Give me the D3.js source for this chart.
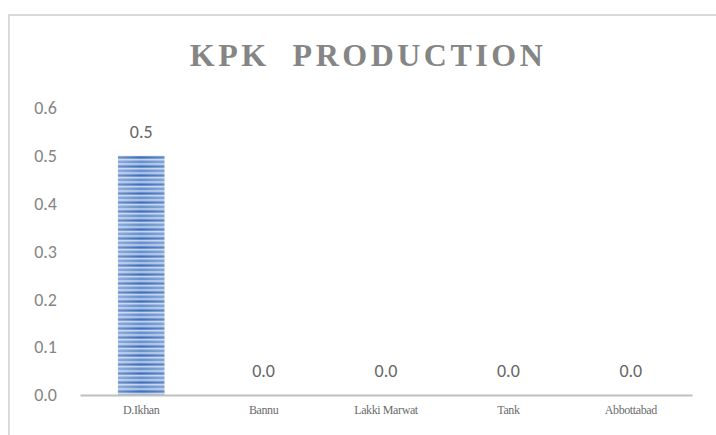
<!DOCTYPE html>
<html><head><meta charset="utf-8">
<script src="https://cdn.jsdelivr.net/npm/d3@7"></script>
<style>html,body{margin:0;padding:0;background:#fff;}svg{display:block;}</style>
</head><body>
<svg id="chart" width="716" height="435"></svg>
<script>
const categories = ["D.Ikhan", "Bannu", "Lakki Marwat", "Tank", "Abbottabad"];
const values = [0.5, 0.0, 0.0, 0.0, 0.0];
const yTicks = [0, 0.1, 0.2, 0.3, 0.4, 0.5, 0.6];
const title = "KPK  PRODUCTION";

const svg = d3.select("#chart");
const m = {left: 80, right: 24, top: 108, bottom: 40};

svg.append("rect").attr("x", 9).attr("y", 15).attr("width", 720).attr("height", 440)
  .attr("fill", "#fff").attr("stroke", "#d9d9d9").attr("stroke-width", 2);

// stripe pattern
const defs = svg.append("defs");
const pat = defs.append("pattern").attr("id", "stripes").attr("patternUnits", "userSpaceOnUse")
  .attr("width", 10).attr("height", 9);
pat.append("rect").attr("width", 10).attr("height", 9).attr("fill", "#6890cd");
pat.append("rect").attr("y", 1).attr("width", 10).attr("height", 2).attr("fill", "#a6bfe6");
pat.append("rect").attr("y", 4).attr("width", 10).attr("height", 1).attr("fill", "#3f6db6");
pat.append("rect").attr("y", 6).attr("width", 10).attr("height", 1.5).attr("fill", "#c0d2ee");
const grad = defs.append("linearGradient").attr("id", "edge").attr("x1", 0).attr("x2", 1);
grad.append("stop").attr("offset", 0).attr("stop-color", "#fff").attr("stop-opacity", 0.25);
grad.append("stop").attr("offset", 0.5).attr("stop-color", "#fff").attr("stop-opacity", 0);
grad.append("stop").attr("offset", 1).attr("stop-color", "#fff").attr("stop-opacity", 0.2);

const x = d3.scaleBand().domain(categories).range([m.left, 692]).paddingInner(0.62).paddingOuter(0.31);
const y = d3.scaleLinear().domain([0, 0.6]).range([395, 108]);

svg.append("text").attr("x", 368).attr("y", 66).attr("text-anchor", "middle")
  .attr("xml:space", "preserve").style("white-space", "pre")
  .attr("font-family", "Liberation Serif, Times New Roman, serif").attr("font-weight", "bold")
  .attr("font-size", 32).attr("letter-spacing", 3.5).attr("fill", "#858585").text(title);

// y tick labels
svg.append("g").selectAll("text").data(yTicks).join("text")
  .attr("x", 57).attr("y", d => y(d)).attr("dy", "0.35em").attr("text-anchor", "end")
  .attr("font-family", "Carlito, Liberation Sans, sans-serif").attr("font-size", 18)
  .attr("fill", "#858585").text(d => d.toFixed(1));

// bars
svg.append("g").selectAll("rect").data(values).join("rect")
  .attr("x", (d, i) => x(categories[i])).attr("width", x.bandwidth())
  .attr("y", d => y(d)).attr("height", d => y(0) - y(d))
  .attr("fill", "url(#stripes)");
svg.append("g").selectAll("rect").data(values).join("rect")
  .attr("x", (d, i) => x(categories[i])).attr("width", x.bandwidth())
  .attr("y", d => y(d)).attr("height", d => y(0) - y(d))
  .attr("fill", "url(#edge)");

// axis line
const xAxis = d3.axisBottom(x).tickSize(0).tickPadding(10);
const gx = svg.append("g").attr("transform", `translate(0,${y(0)})`).call(xAxis);
gx.select(".domain").attr("stroke", "#bfbfbf").attr("stroke-width", 2);
gx.selectAll("text").attr("font-family", "Liberation Serif, Times New Roman, serif")
  .attr("font-size", 12).attr("fill", "#6b6b6b").attr("letter-spacing", -0.4);

// value labels
svg.append("g").selectAll("text").data(values).join("text")
  .attr("x", (d, i) => x(categories[i]) + x.bandwidth() / 2)
  .attr("y", d => y(d) - 18).attr("text-anchor", "middle")
  .attr("font-family", "Carlito, Liberation Sans, sans-serif").attr("font-size", 18)
  .attr("fill", "#666").text(d => d.toFixed(1));
</script>
</body></html>
